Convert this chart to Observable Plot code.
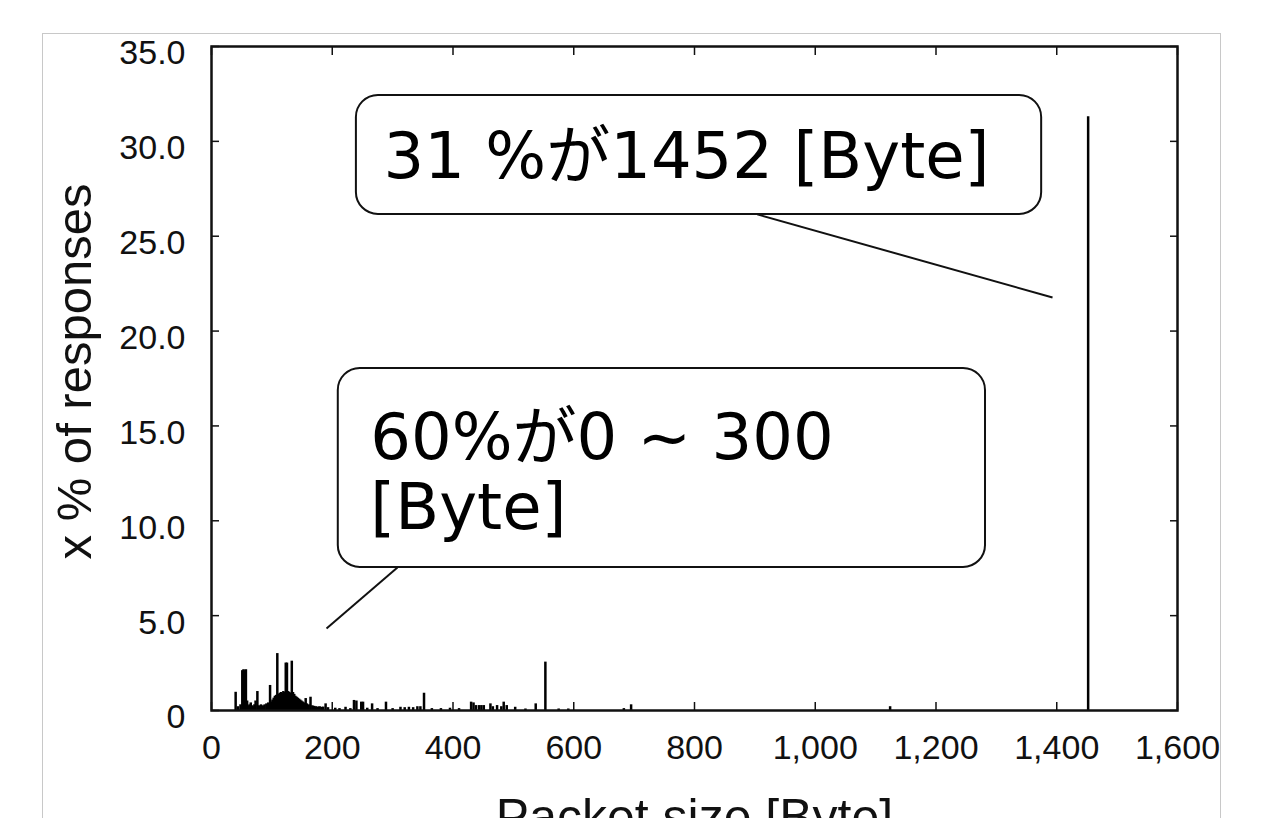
<!DOCTYPE html>
<html><head><meta charset="utf-8">
<script src="https://cdn.jsdelivr.net/npm/d3@7"></script>
<script src="https://cdn.jsdelivr.net/npm/@observablehq/plot@0.6"></script>
<style>
html,body{margin:0;padding:0;background:#fff;overflow:hidden}
#wrap{position:relative;width:1272px;height:818px;overflow:hidden}
#border{position:absolute;left:42px;top:33px;width:1179px;height:820px;border:1px solid #c8c8c8;box-sizing:border-box}
#chart{position:absolute;left:0;top:0}
</style></head><body>
<div id="wrap"><div id="border"></div><div id="chart"></div></div>
<script>
// Packet size [Byte] and share of responses [%]
const packetSizes = [40,44,48,51,53,55,57,59,61,63,65,67,69,71,73,76,79,82,85,88,91,94,97,99,101,103,105,107,109,111,113,115,117,119,121,123,125,127,129,131,133,135,137,139,141,143,145,147,149,151,153,156,158,161,164,167,170,173,176,179,182,185,189,193,205,212,222,230,236,240,248,251,258,266,275,289,300,313,320,327,334,341,346,352,365,380,395,410,430,434,438,443,447,451,462,466,473,480,484,489,503,520,537,553,575,591,683,695,1124,1452];
const responseShares = [0.96,0.2,0.3,2.1,2.15,2.1,2.15,0.5,0.25,0.3,0.4,0.25,0.2,0.3,0.5,1.0,0.25,0.3,0.25,0.3,0.35,0.4,1.32,0.45,0.55,0.65,0.75,0.8,3.0,0.85,0.9,0.95,0.9,1.0,0.95,2.5,2.5,1.0,0.95,0.9,2.6,0.95,0.85,0.75,0.7,0.65,0.6,0.55,0.5,0.45,0.4,0.63,0.35,0.3,0.7,0.25,0.22,0.2,0.18,0.2,0.17,0.18,0.35,0.15,0.12,0.1,0.17,0.1,0.53,0.5,0.44,0.44,0.12,0.35,0.1,0.44,0.1,0.17,0.15,0.17,0.15,0.2,0.2,0.91,0.1,0.1,0.12,0.1,0.44,0.4,0.26,0.26,0.26,0.26,0.35,0.2,0.26,0.2,0.44,0.26,0.17,0.08,0.35,2.55,0.08,0.08,0.1,0.3,0.2,31.3];

const xTicks = [0,200,400,600,800,1000,1200,1400,1600];
const yTicks = [0,5,10,15,20,25,30,35];
const xLabel = "Packet size [Byte]";
const yLabel = "x % of responses";

// Callouts (data units)
const calloutTexts = ["31 %が1452 [Byte]", "60%が0 ~ 300\n[Byte]"];
const calloutTextX = [285, 263];
const calloutTextY = [29.26, 12.6];
const boxX1 = [240, 210], boxX2 = [1375, 1282];
const boxY1 = [26.15, 7.54], boxY2 = [32.42, 18.03];
const pointerX1 = [904, 308], pointerY1 = [26.15, 7.54];
const pointerX2 = [1393, 190.5], pointerY2 = [21.77, 4.32];

const bars = packetSizes.map((s, i) => ({size: s, share: responseShares[i]}));
const callouts = calloutTexts.map((t, i) => ({
  text: t, tx: calloutTextX[i], ty: calloutTextY[i],
  bx1: boxX1[i], bx2: boxX2[i], by1: boxY1[i], by2: boxY2[i],
  px1: pointerX1[i], py1: pointerY1[i], px2: pointerX2[i], py2: pointerY2[i]
}));

const tickFont = "Liberation Sans, Arial, sans-serif";
const yFmt = d => d === 0 ? "0" : d3.format(".1f")(d);
const blank = () => "";

const chart = Plot.plot({
  width: 1272, height: 818,
  marginLeft: 211, marginRight: 95, marginTop: 46, marginBottom: 108,
  style: {fontFamily: "Liberation Sans, Arial, sans-serif", background: "transparent", color: "#111", overflow: "visible"},
  x: {domain: [0, 1600]},
  y: {domain: [0, 35]},
  marks: [
    Plot.ruleX(bars, {x: "size", y1: 0, y2: "share", stroke: "black", strokeWidth: 2.5}),
    Plot.axisX(xTicks, {anchor: "bottom", tickSize: -8, tickPadding: 32, tickFormat: d3.format(","), fontSize: 34, fontFamily: tickFont, label: null, strokeWidth: 1.5, stroke: "#111"}),
    Plot.axisX(xTicks, {anchor: "top", tickSize: -8, tickFormat: blank, label: null, strokeWidth: 1.5, stroke: "#111"}),
    Plot.axisY(yTicks, {anchor: "left", tickSize: -8, tickFormat: blank, label: null, strokeWidth: 1.5, stroke: "#111"}),
    Plot.axisY(yTicks, {anchor: "left", tickSize: 0, tickPadding: 26, tickFormat: yFmt, fontSize: 34, fontFamily: tickFont, label: null, stroke: "none", dy: 7}),
    Plot.axisY(yTicks, {anchor: "right", tickSize: -8, tickFormat: blank, label: null, strokeWidth: 1.5, stroke: "#111"}),
    Plot.frame({stroke: "#111", strokeWidth: 2.5}),
    Plot.text([yLabel], {frameAnchor: "left", text: d => d, rotate: -90, textAnchor: "middle", lineAnchor: "middle", dx: -136, dy: -7, fontSize: 49, fill: "#111"}),
    Plot.text([xLabel], {frameAnchor: "bottom", text: d => d, textAnchor: "middle", lineAnchor: "top", dy: 88, fontSize: 50, fill: "#111"}),
    Plot.link(callouts, {x1: "px1", y1: "py1", x2: "px2", y2: "py2", stroke: "#111", strokeWidth: 2}),
    Plot.rect(callouts, {x1: "bx1", x2: "bx2", y1: "by1", y2: "by2", rx: 22, fill: "white", stroke: "#111", strokeWidth: 2}),
    Plot.text(callouts, {x: "tx", y: "ty", text: "text", textAnchor: "start", lineAnchor: "middle", fontSize: 64, lineHeight: 1.1, fontFamily: "DejaVu Sans, Noto Sans CJK JP, sans-serif", fill: "#000"})
  ]
});
document.getElementById("chart").appendChild(chart);
</script>
</body></html>
